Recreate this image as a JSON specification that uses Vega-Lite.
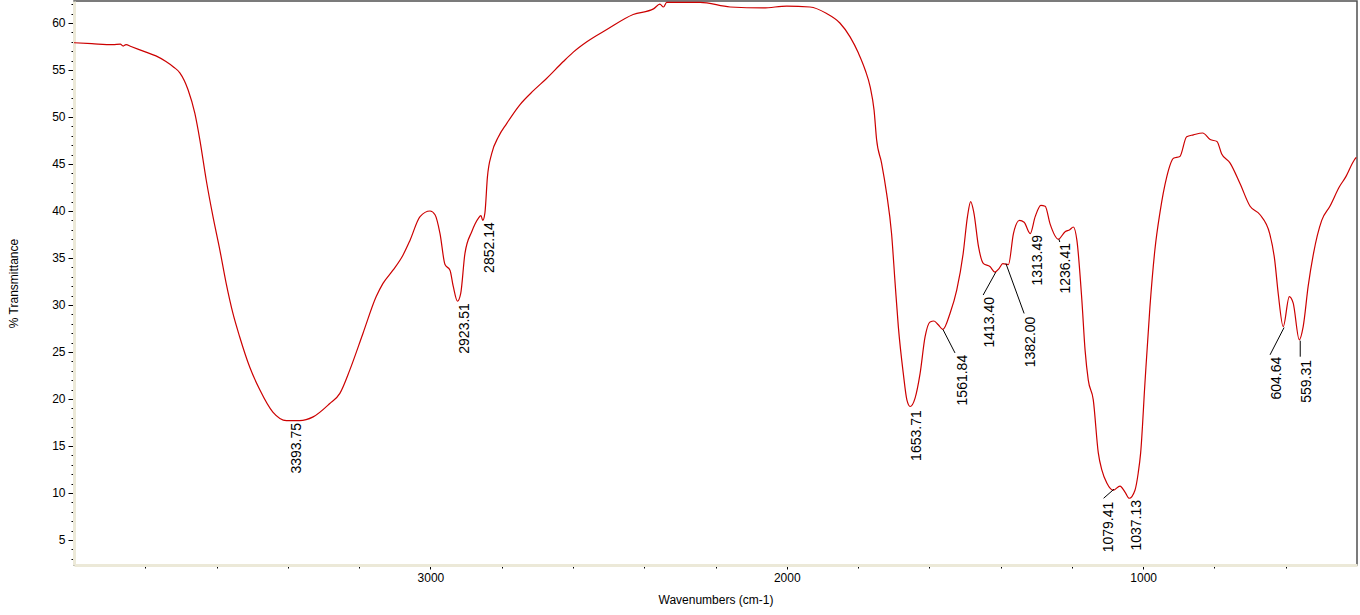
{
  "$schema": "https://vega.github.io/schema/vega-lite/v6.json",
  "width": 1283,
  "height": 564,
  "autosize": {"type": "none"},
  "padding": {"left": 74, "top": 1, "right": 3, "bottom": 50},
  "background": "white",
  "config": {"view": {"stroke": "#505050", "strokeWidth": 1.5}, "font": "Liberation Sans"},
  "datasets": {
    "spectrum": [
      {"w":4000,"t":57.9},{"w":3950,"t":57.8},{"w":3891,"t":57.7},{"w":3870,"t":57.75},{"w":3862,"t":57.55},{"w":3854,"t":57.7},{"w":3840,"t":57.5},
      {"w":3798,"t":56.9},{"w":3770,"t":56.5},{"w":3742,"t":55.9},{"w":3720,"t":55.3},{"w":3703,"t":54.7},{"w":3680,"t":52.9},{"w":3661,"t":50.4},
      {"w":3647,"t":47.6},{"w":3629,"t":43.3},{"w":3610,"t":39.4},{"w":3591,"t":35.9},{"w":3573,"t":32.3},{"w":3554,"t":29.1},{"w":3535,"t":26.6},
      {"w":3507,"t":23.4},{"w":3479,"t":21.0},{"w":3442,"t":18.6},{"w":3404,"t":17.7},{"w":3367,"t":17.7},{"w":3329,"t":18.1},{"w":3283,"t":19.5},
      {"w":3254,"t":20.6},{"w":3226,"t":23.1},{"w":3189,"t":27.0},{"w":3152,"t":30.9},{"w":3133,"t":32.3},{"w":3105,"t":33.7},{"w":3077,"t":35.3},
      {"w":3057,"t":36.9},{"w":3029,"t":39.4},{"w":3001,"t":40.0},{"w":2987,"t":39.6},{"w":2973,"t":37.6},{"w":2959,"t":34.3},{"w":2945,"t":33.7},
      {"w":2936,"t":32.0},{"w":2924,"t":30.4},{"w":2915,"t":31.2},{"w":2903,"t":35.5},{"w":2884,"t":37.8},{"w":2866,"t":39.2},{"w":2858,"t":39.5},
      {"w":2853,"t":39.0},{"w":2847,"t":39.8},{"w":2840,"t":43.6},{"w":2828,"t":46.1},{"w":2809,"t":47.9},{"w":2786,"t":49.3},{"w":2749,"t":51.3},
      {"w":2711,"t":52.8},{"w":2674,"t":54.1},{"w":2627,"t":55.9},{"w":2599,"t":56.9},{"w":2561,"t":58.0},{"w":2505,"t":59.3},{"w":2431,"t":60.9},
      {"w":2374,"t":61.5},{"w":2356,"t":62.0},{"w":2346,"t":61.7},{"w":2337,"t":62.2},{"w":2243,"t":62.2},{"w":2159,"t":61.7},{"w":2066,"t":61.6},
      {"w":2000,"t":61.8},{"w":1935,"t":61.7},{"w":1888,"t":61.0},{"w":1851,"t":60.0},{"w":1822,"t":58.5},{"w":1799,"t":56.8},{"w":1780,"t":55.0},
      {"w":1766,"t":53.2},{"w":1755,"t":50.7},{"w":1748,"t":47.6},{"w":1734,"t":45.1},{"w":1720,"t":41.9},{"w":1706,"t":37.6},{"w":1696,"t":32.3},
      {"w":1687,"t":27.7},{"w":1673,"t":22.7},{"w":1663,"t":19.9},{"w":1654,"t":19.2},{"w":1640,"t":20.1},{"w":1626,"t":22.7},{"w":1612,"t":26.6},
      {"w":1598,"t":28.2},{"w":1587,"t":28.3},{"w":1575,"t":27.9},{"w":1562,"t":27.4},{"w":1542,"t":29.1},{"w":1523,"t":31.6},{"w":1505,"t":35.5},
      {"w":1493,"t":39.4},{"w":1484,"t":41.0},{"w":1475,"t":39.8},{"w":1462,"t":36.2},{"w":1448,"t":34.4},{"w":1430,"t":34.1},{"w":1416,"t":33.5},
      {"w":1404,"t":33.9},{"w":1394,"t":34.4},{"w":1378,"t":34.3},{"w":1364,"t":37.6},{"w":1347,"t":39.0},{"w":1334,"t":38.8},{"w":1317,"t":37.6},
      {"w":1303,"t":39.4},{"w":1287,"t":40.6},{"w":1275,"t":40.5},{"w":1261,"t":38.6},{"w":1238,"t":37.0},{"w":1219,"t":37.8},{"w":1206,"t":38.0},
      {"w":1196,"t":38.3},{"w":1186,"t":36.9},{"w":1172,"t":30.5},{"w":1163,"t":25.2},{"w":1154,"t":22.0},{"w":1140,"t":19.9},{"w":1126,"t":14.3},
      {"w":1116,"t":12.45},{"w":1102,"t":11.06},{"w":1084,"t":10.3},{"w":1065,"t":10.74},{"w":1051,"t":10.1},{"w":1039,"t":9.44},{"w":1023,"t":10.3},
      {"w":1014,"t":12.1},{"w":1007,"t":14.3},{"w":995,"t":21.7},{"w":981,"t":29.8},{"w":967,"t":35.9},{"w":953,"t":39.8},{"w":934,"t":43.6},
      {"w":915,"t":45.6},{"w":897,"t":45.8},{"w":878,"t":47.9},{"w":859,"t":48.1},{"w":833,"t":48.3},{"w":812,"t":47.6},{"w":793,"t":47.4},
      {"w":780,"t":46.1},{"w":756,"t":45.1},{"w":728,"t":42.9},{"w":700,"t":40.5},{"w":672,"t":39.6},{"w":645,"t":37.6},{"w":631,"t":34.8},
      {"w":621,"t":31.2},{"w":607,"t":27.7},{"w":590,"t":30.9},{"w":579,"t":30.2},{"w":562,"t":26.3},{"w":551,"t":27.7},{"w":537,"t":32.0},
      {"w":522,"t":35.5},{"w":499,"t":39.0},{"w":476,"t":40.5},{"w":449,"t":42.6},{"w":432,"t":43.6},{"w":408,"t":45.4},{"w":402,"t":45.7}
    ],
    "leaders": [
      {"w":1561.84,"t":27.4,"w2":1528,"t2":24.9},
      {"w":1413.4,"t":33.5,"w2":1449,"t2":31.06},
      {"w":1385,"t":34.4,"w2":1334,"t2":29.1},
      {"w":1236.41,"t":37.0,"w2":1234,"t2":36.7},
      {"w":1082,"t":10.4,"w2":1111,"t2":9.44},
      {"w":604.64,"t":27.6,"w2":644,"t2":24.7},
      {"w":559.31,"t":26.2,"w2":559.31,"t2":24.5}
    ],
    "labels": [
      {"w":3393.75,"t":17.45,"label":"3393.75"},
      {"w":2923.51,"t":30.2,"label":"2923.51"},
      {"w":2852.14,"t":38.8,"label":"2852.14"},
      {"w":1653.71,"t":18.8,"label":"1653.71"},
      {"w":1525,"t":24.7,"label":"1561.84"},
      {"w":1449,"t":30.85,"label":"1413.40"},
      {"w":1334,"t":28.76,"label":"1382.00"},
      {"w":1315,"t":37.45,"label":"1313.49"},
      {"w":1236.41,"t":36.6,"label":"1236.41"},
      {"w":1115,"t":9.07,"label":"1079.41"},
      {"w":1037.13,"t":9.26,"label":"1037.13"},
      {"w":645,"t":24.5,"label":"604.64"},
      {"w":561,"t":24.15,"label":"559.31"}
    ]
  },
  "encoding": {
    "x": {
      "field": "w", "type": "quantitative",
      "scale": {"domain": [400, 4000], "reverse": true, "nice": false, "zero": false},
      "title": "Wavenumbers (cm-1)",
      "axis": {
        "values": [3800,3600,3400,3200,3000,2800,2600,2400,2200,2000,1800,1600,1400,1200,1000,800,600],
        "format": "d",
        "labelExpr": "datum.value % 1000 === 0 ? datum.label : ''",
        "tickSize": {"condition": {"test": "datum.value % 1000 === 0", "value": 4}, "value": 3},
        "domainColor": "#ECE9D8", "domainWidth": 3, "tickColor": "#000000", "tickWidth": 1,
        "labelFontSize": 12, "labelColor": "#000000", "labelPadding": 3, "labelOverlap": false, "labelFlush": false,
        "titleFontSize": 12, "titleFontWeight": "normal", "titleColor": "#000000", "titlePadding": 11, "grid": false
      }
    },
    "y": {
      "field": "t", "type": "quantitative",
      "scale": {"domain": [2.34, 62.34], "nice": false, "zero": false},
      "title": "% Transmittance",
      "axis": {
        "values": [3,4,5,6,7,8,9,10,11,12,13,14,15,16,17,18,19,20,21,22,23,24,25,26,27,28,29,30,31,32,33,34,35,36,37,38,39,40,41,42,43,44,45,46,47,48,49,50,51,52,53,54,55,56,57,58,59,60,61,62],
        "format": "d",
        "labelExpr": "datum.value % 5 === 0 ? datum.label : ''",
        "tickSize": {"condition": {"test": "datum.value % 5 === 0", "value": 6}, "value": 3},
        "domainColor": "#ECE9D8", "domainWidth": 3, "tickColor": "#000000", "tickWidth": 1,
        "labelFontSize": 12, "labelColor": "#000000", "labelPadding": 3, "labelOverlap": false, "labelFlush": false,
        "titleFontSize": 12, "titleFontWeight": "normal", "titleColor": "#000000", "titlePadding": 31, "grid": false
      }
    }
  },
  "layer": [
    {
      "data": {"name": "spectrum"},
      "mark": {"type": "line", "color": "#CC0000", "strokeWidth": 1.2, "interpolate": "monotone"}
    },
    {
      "data": {"name": "leaders"},
      "mark": {"type": "rule", "color": "#000000", "strokeWidth": 1},
      "encoding": {"x2": {"field": "w2"}, "y2": {"field": "t2"}}
    },
    {
      "data": {"name": "labels"},
      "mark": {"type": "text", "angle": 270, "align": "right", "baseline": "top", "fontSize": 14, "color": "#000000", "font": "Liberation Sans"},
      "encoding": {"text": {"field": "label"}}
    }
  ]
}
